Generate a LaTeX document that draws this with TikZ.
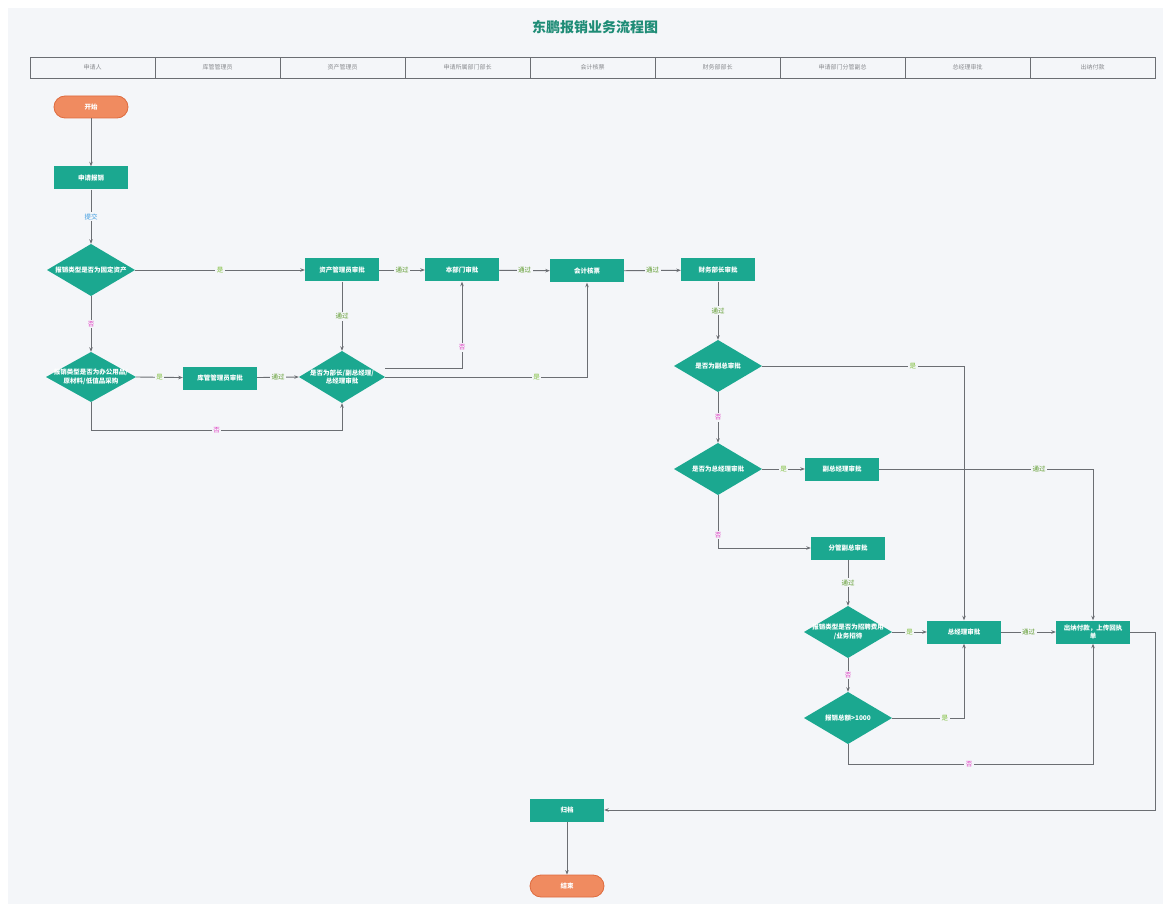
\documentclass[tikz,border=0pt]{standalone}
\usepackage{fontspec}
\setmainfont{Noto Sans CJK SC}
\usepackage{tikz}
\usetikzlibrary{arrows.meta}
\definecolor{flowteal}{HTML}{1BA890}
\definecolor{flowgreen}{HTML}{1E8C76}
\definecolor{termfill}{HTML}{F08B60}
\definecolor{termline}{HTML}{DE6B3E}
\definecolor{canvasbg}{HTML}{F4F6F9}
\definecolor{linegray}{HTML}{6B6E73}
\definecolor{yescol}{HTML}{7DBE3A}
\definecolor{passcol}{HTML}{5C9A2A}
\definecolor{nocol}{HTML}{E03FC3}
\definecolor{submitcol}{HTML}{3C9BE0}

\begin{document}
\begin{tikzpicture}[
		x=1pt, y=-1pt,
		flow/.style={draw=linegray, line width=0.9pt, -{Stealth[length=4.5pt,width=3.5pt]}},
		procbox/.style={fill=flowteal, text=white, minimum width=74pt, minimum height=23pt,
			inner sep=1pt, font=\fontsize{6.5}{8}\selectfont\bfseries, align=center},
		terminal/.style={fill=termfill, draw=termline, line width=0.8pt, rounded corners=11pt,
			text=white, minimum width=74pt, minimum height=22pt, font=\fontsize{6.5}{8}\selectfont\bfseries},
		decide/.style={fill=canvasbg, text=white, minimum width=88pt, minimum height=52pt,
			inner sep=0pt, font=\fontsize{6.5}{8.5}\selectfont\bfseries, align=center,
			path picture={\fill[flowteal] (path picture bounding box.north)
				-- (path picture bounding box.east) -- (path picture bounding box.south)
				-- (path picture bounding box.west) -- cycle;}},
		lbl/.style={fill=canvasbg, inner sep=1.5pt, font=\fontsize{6.5}{8}\selectfont},
		yeslbl/.style={lbl, text=yescol},
		passlbl/.style={lbl, text=passcol},
		nolbl/.style={lbl, text=nocol},
		lane/.style={draw=linegray, line width=0.9pt, fill=canvasbg}
	]
	\useasboundingbox (0,0) rectangle (1163,904);
	\fill[white] (0,0) rectangle (1163,904);
	\fill[canvasbg] (8,8) rectangle (1163,904);

	% title and lanes
	\node[text=flowgreen, font=\fontsize{14}{16}\selectfont\bfseries] (title) at (595,27) {东鹏报销业务流程图};
	\foreach \lane [count=\i from 0] in {申请人,库管管理员,资产管理员,申请所属部门部长,会计核票,财务部部长,申请部门分管副总,总经理审批,出纳付款}{
		\draw[lane] ({30+125*\i},57) rectangle ({155+125*\i},78);
		\node[text=linegray!80, font=\fontsize{6}{7}\selectfont] (lane\i) at ({92.5+125*\i},67.5) {\lane};
	}

	% nodes
	\node[terminal] (start) at (91,107) {开始};
	\node[procbox] (apply) at (91,178) {申请报销};
	\node[decide] (d1) at (91,270) {报销类型是否为固定资产};
	\node[decide, minimum width=90pt, minimum height=50pt] (d2) at (91,377) {报销类型是否为办公用品/\\原材料/低值品采购};
	\node[procbox] (stock) at (220,378) {库管管理员审批};
	\node[procbox] (asset) at (342,270) {资产管理员审批};
	\node[decide, minimum width=86pt] (d3) at (342,377) {是否为部长/副总经理/\\总经理审批};
	\node[procbox] (dept) at (462,270) {本部门审批};
	\node[procbox] (check) at (587,271) {会计核票};
	\node[procbox] (fin) at (718,270) {财务部长审批};
	\node[decide] (d4) at (718,366) {是否为副总审批};
	\node[decide] (d5) at (718,469) {是否为总经理审批};
	\node[procbox] (vgm) at (842,469) {副总经理审批};
	\node[procbox] (vice) at (848,548) {分管副总审批};
	\node[decide] (d6) at (848,632) {报销类型是否为招聘费用\\/业务招待};
	\node[decide] (d7) at (848,718) {报销总额>1000};
	\node[procbox] (gm) at (964,632) {总经理审批};
	\node[procbox] (pay) at (1093,632) {出纳付款，上传回执\\单};
	\node[procbox] (file) at (567,810) {归档};
	\node[terminal] (end) at (567,886) {结束};

	% connectors
	\draw[flow] (start) -- (apply);
	\draw[flow] (apply) -- node[lbl, text=submitcol]{提交} (d1);
	\draw[flow] (d1.east) -- node[yeslbl]{是} (asset);
	\draw[flow] (d1.south) -- node[nolbl]{否} (d2.north);
	\draw[flow] (d2.east) -- node[yeslbl]{是} (stock);
	\draw[flow] (stock) -- node[passlbl]{通过} (d3.west);
	\draw[flow] (d2.south) -- ++(0,28) -| node[pos=0.25, nolbl]{否} (d3.south);
	\draw[flow] (asset) -- node[passlbl]{通过} (d3.north);
	\draw[flow] (asset) -- node[passlbl]{通过} (dept);
	\draw[flow] ([yshift=9pt]d3.east) -| node[pos=0.62, nolbl]{否} (dept.south);
	\draw[flow] (d3.east) -| node[pos=0.375, yeslbl]{是} (check.south);
	\draw[flow] (dept) -- node[passlbl]{通过} (check);
	\draw[flow] (check) -- node[passlbl]{通过} (fin);
	\draw[flow] (fin) -- node[passlbl]{通过} (d4.north);
	\draw[flow] (d4.east) -| node[pos=0.373, yeslbl]{是} (gm.north);
	\draw[flow] (d4.south) -- node[nolbl]{否} (d5.north);
	\draw[flow] (d5.east) -- node[yeslbl]{是} (vgm);
	\draw[flow] (vgm.east) -| node[pos=0.374, passlbl]{通过} (pay.north);
	\draw[flow] (d5.south) |- node[pos=0.377, nolbl]{否} (vice.west);
	\draw[flow] (vice) -- node[passlbl]{通过} (d6.north);
	\draw[flow] (d6.east) -- node[yeslbl]{是} (gm);
	\draw[flow] (gm) -- node[passlbl]{通过} (pay);
	\draw[flow] (d6.south) -- node[nolbl]{否} (d7.north);
	\draw[flow] (d7.east) -| node[pos=0.366, yeslbl]{是} (gm.south);
	\draw[flow] (d7.south) -- ++(0,20) -| node[pos=0.247, nolbl]{否} (pay.south);
	\draw[flow] (pay.east) -- ++(25,0) |- (file.east);
	\draw[flow] (file) -- (end);
\end{tikzpicture}
\end{document}
